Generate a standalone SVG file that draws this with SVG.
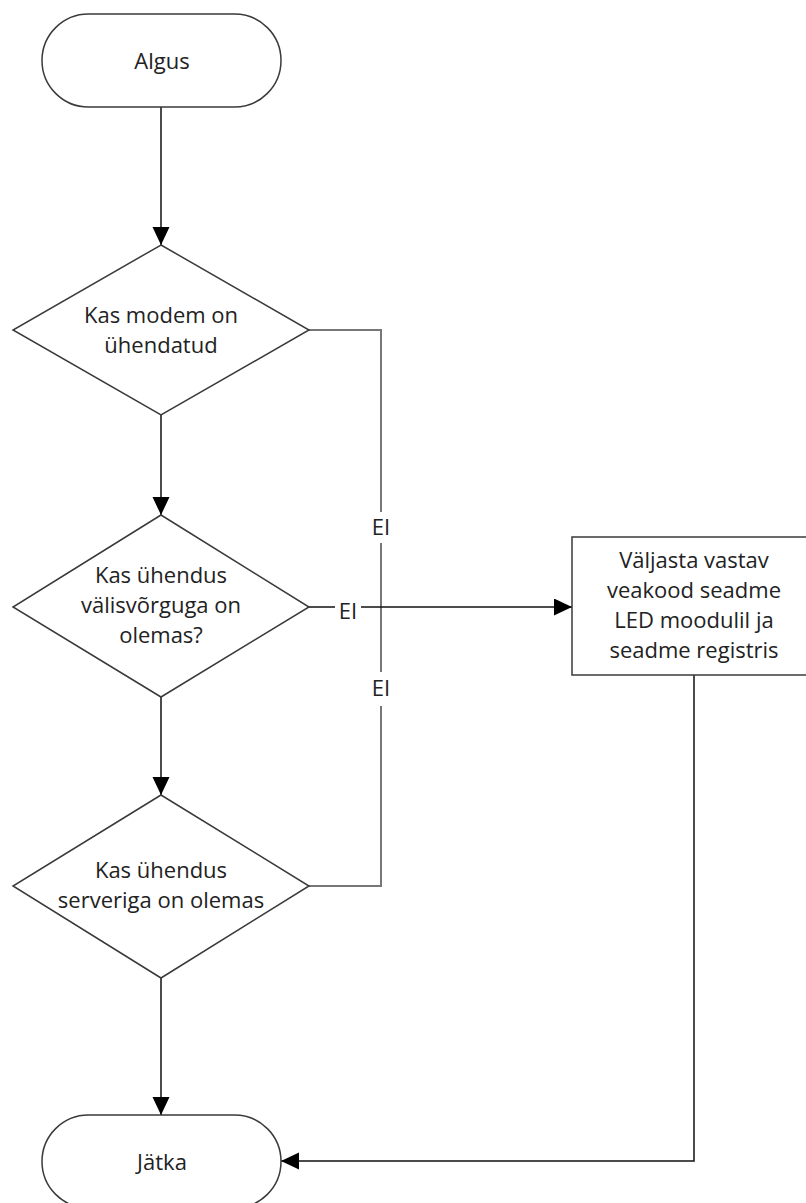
<svg xmlns="http://www.w3.org/2000/svg" width="806" height="1203" viewBox="0 0 806 1203">
<style>
.shape{fill:#fff;stroke:#3a3a3a;stroke-width:1.5}
.t{font-family:"Open Sans","Liberation Sans",sans-serif;font-size:22px;fill:#222;text-anchor:middle}
.c{fill:none;stroke:#111;stroke-width:1.5}
.g{fill:none;stroke:#777;stroke-width:2}
</style>
<defs>
<marker id="ah" markerUnits="userSpaceOnUse" markerWidth="18" markerHeight="18" refX="18" refY="8.5" orient="auto">
<path d="M0,0 L18,8.5 L0,17 z" fill="#000"/>
</marker>
</defs>
<rect width="806" height="1203" fill="#fff"/>
<g id="connectors">
<line class="c" x1="161" y1="107" x2="161" y2="245" marker-end="url(#ah)"/>
<line class="c" x1="161" y1="415" x2="161" y2="515" marker-end="url(#ah)"/>
<line class="c" x1="161" y1="697" x2="161" y2="795" marker-end="url(#ah)"/>
<line class="c" x1="161" y1="978" x2="161" y2="1115" marker-end="url(#ah)"/>
<polyline class="g" points="309,330 381,330 381,886 309,886"/>
<line class="c" x1="309" y1="607" x2="572" y2="607" marker-end="url(#ah)"/>
<polyline class="c" points="694,675 694,1161 281,1161" marker-end="url(#ah)"/>
<rect x="367" y="512" width="28" height="31" fill="#fff"/>
<text class="t" x="381" y="535">EI</text>
<rect x="367" y="672" width="28" height="34" fill="#fff"/>
<text class="t" x="381" y="696">EI</text>
<rect x="335" y="596" width="26" height="26" fill="#fff"/>
<text class="t" x="348" y="619">EI</text>
</g>
<g id="start">
<rect class="shape" x="42" y="14" width="239" height="93" rx="46.5" ry="46.5"/>
<text class="t" x="162" y="69">Algus</text>
</g>
<g id="dec1">
<polygon class="shape" points="161,245 309,330 161,415 13,330"/>
<text class="t" x="161" y="323">Kas modem on</text>
<text class="t" x="161" y="353">ühendatud</text>
</g>
<g id="dec2">
<polygon class="shape" points="161,515 309,607 161,697 13,607"/>
<text class="t" x="161" y="583">Kas ühendus</text>
<text class="t" x="161" y="613">välisvõrguga on</text>
<text class="t" x="161" y="643">olemas?</text>
</g>
<g id="dec3">
<polygon class="shape" points="161,795 309,886 161,978 13,886"/>
<text class="t" x="161" y="878">Kas ühendus</text>
<text class="t" x="161" y="908">serveriga on olemas</text>
</g>
<g id="error">
<rect class="shape" x="572" y="537" width="242" height="138"/>
<text class="t" x="694" y="568">Väljasta vastav</text>
<text class="t" x="694" y="598">veakood seadme</text>
<text class="t" x="694" y="628">LED moodulil ja</text>
<text class="t" x="694" y="658">seadme registris</text>
</g>
<g id="end">
<rect class="shape" x="42" y="1115" width="239" height="93" rx="46.5" ry="46.5"/>
<text class="t" x="162" y="1170">Jätka</text>
</g>
</svg>
